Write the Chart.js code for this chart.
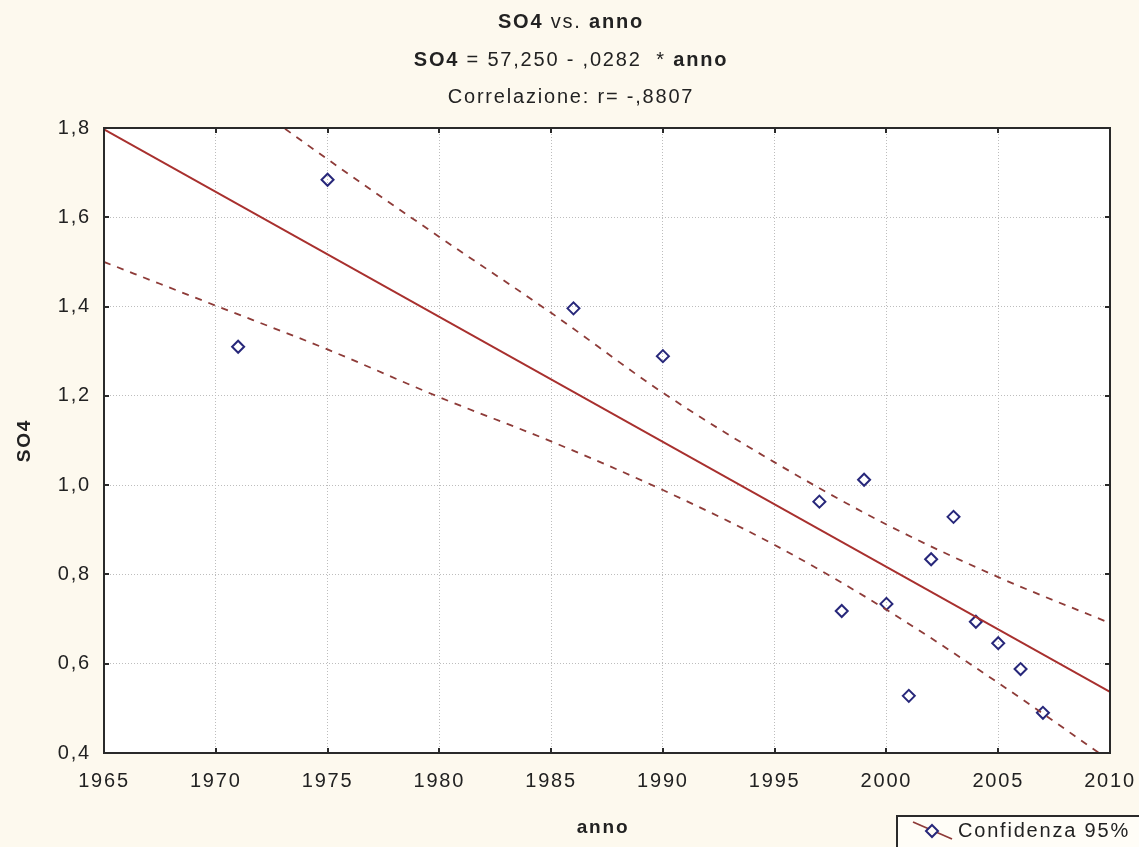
<!DOCTYPE html>
<html>
<head>
<meta charset="utf-8">
<script src="https://cdn.jsdelivr.net/npm/chart.js@4.4.1/dist/chart.umd.min.js"></script>
<style>
  html, body { margin: 0; padding: 0; background: #fdf9ee; }
  #wrap { width: 1139px; height: 847px; position: relative; }
</style>
</head>
<body>
<div id="wrap"><canvas id="c"></canvas></div>
<script>
// ---- data ----
const years = [1971, 1975, 1986, 1990, 1997, 1998, 1999, 2000, 2001, 2002, 2003, 2004, 2005, 2006, 2007];
const so4   = [1.31, 1.684, 1.396, 1.289, 0.963, 0.718, 1.012, 0.734, 0.528, 0.834, 0.929, 0.694, 0.646, 0.588, 0.49];

const fitYears = [1965, 2010];
const fitValues = [1.797, 0.537];

const bandYears = [1965, 1970, 1975, 1980, 1985, 1990, 1995, 2000, 2005, 2010];
const upperBand = [2.094, 1.911, 1.730, 1.556, 1.386, 1.207, 1.051, 0.912, 0.794, 0.691];
const lowerBand = [1.500, 1.402, 1.304, 1.197, 1.098, 0.989, 0.866, 0.721, 0.557, 0.383];

const xTicks = [1965, 1970, 1975, 1980, 1985, 1990, 1995, 2000, 2005, 2010];
const yTicks = [0.4, 0.6, 0.8, 1.0, 1.2, 1.4, 1.6, 1.8];

const titleLine1 = [["SO4", true], [" vs. ", false], ["anno", true]];
const titleLine2 = [["SO4", true], [" = 57,250 - ,0282  * ", false], ["anno", true]];
const titleLine3 = [["Correlazione: r= -,8807", false]];
const xTitle = "anno";
const yTitle = "SO4";
const legendLabel = "Confidenza 95%";

// ---- styles ----
const FONT = "'Liberation Sans', Arial, sans-serif";
const LS = "1.8px";
const TEXT = "#222222";
const FIT_COLOR = "#a8302e";
const BAND_COLOR = "#8e3b38";
const POINT_COLOR = "#27277a";

const toXY = (xs, ys) => xs.map((x, i) => ({ x: x, y: ys[i] }));

function drawRich(ctx, segs, cx, cy, size) {
  ctx.save();
  ctx.letterSpacing = LS;
  ctx.textBaseline = "middle";
  ctx.textAlign = "left";
  ctx.fillStyle = TEXT;
  let total = 0;
  const widths = segs.map(([t, b]) => {
    ctx.font = (b ? "bold " : "") + size + "px " + FONT;
    const w = ctx.measureText(t).width;
    total += w;
    return w;
  });
  let x = cx - total / 2;
  segs.forEach(([t, b], i) => {
    ctx.font = (b ? "bold " : "") + size + "px " + FONT;
    ctx.fillText(t, x, cy);
    x += widths[i];
  });
  ctx.restore();
}

const custom = {
  id: "custom",
  beforeLayout(chart) { chart.ctx.letterSpacing = LS; },
  beforeDraw(chart) {
    const ctx = chart.ctx, a = chart.chartArea;
    ctx.save();
    ctx.fillStyle = "#fdf9ee";
    ctx.fillRect(0, 0, chart.width, chart.height);
    ctx.fillStyle = "#ffffff";
    ctx.fillRect(a.left, a.top, a.right - a.left, a.bottom - a.top);
    ctx.restore();
    ctx.letterSpacing = LS;
  },
  afterDraw(chart) {
    const ctx = chart.ctx, a = chart.chartArea;
    const xs = chart.scales.x, ys = chart.scales.y;
    ctx.save();
    ctx.strokeStyle = "#2a2a2a";
    ctx.lineWidth = 2;
    ctx.strokeRect(a.left, a.top, a.right - a.left, a.bottom - a.top);
    ctx.beginPath();
    xTicks.forEach(v => {
      const px = Math.round(xs.getPixelForValue(v));
      ctx.moveTo(px, a.bottom); ctx.lineTo(px, a.bottom - 5);
      ctx.moveTo(px, a.top); ctx.lineTo(px, a.top + 5);
    });
    yTicks.forEach(v => {
      const py = Math.round(ys.getPixelForValue(v));
      ctx.moveTo(a.left, py); ctx.lineTo(a.left + 5, py);
      ctx.moveTo(a.right, py); ctx.lineTo(a.right - 5, py);
    });
    ctx.stroke();
    ctx.restore();

    const cx = 571;
    drawRich(ctx, titleLine1, cx, 22, 20);
    drawRich(ctx, titleLine2, cx, 60, 20);
    drawRich(ctx, titleLine3, cx, 97, 20);

    drawRich(ctx, [[xTitle, true]], 603, 828, 19);
    ctx.save();
    ctx.translate(25, (a.top + a.bottom) / 2);
    ctx.rotate(-Math.PI / 2);
    drawRich(ctx, [[yTitle, true]], 0, 0, 19);
    ctx.restore();

    ctx.save();
    ctx.fillStyle = "#fffdf7";
    ctx.fillRect(897, 816, 260, 60);
    ctx.strokeStyle = "#2a2a2a";
    ctx.lineWidth = 2;
    ctx.strokeRect(897, 816, 260, 60);
    ctx.strokeStyle = BAND_COLOR;
    ctx.lineWidth = 1.8;
    ctx.beginPath();
    ctx.moveTo(913, 822); ctx.lineTo(952, 839);
    ctx.stroke();
    ctx.strokeStyle = POINT_COLOR;
    ctx.fillStyle = "#fffdf7";
    ctx.lineWidth = 2;
    ctx.beginPath();
    ctx.moveTo(932, 825); ctx.lineTo(938, 831); ctx.lineTo(932, 837); ctx.lineTo(926, 831); ctx.closePath();
    ctx.fill(); ctx.stroke();
    ctx.letterSpacing = LS;
    ctx.font = "20px " + FONT;
    ctx.fillStyle = TEXT;
    ctx.textBaseline = "middle";
    ctx.textAlign = "left";
    ctx.fillText(legendLabel, 958, 831);
    ctx.restore();
  }
};

const gridOpts = {
  color: "#bdbdbd",
  lineWidth: 1,
  borderDash: [1, 2],
  drawTicks: false
};

new Chart(document.getElementById("c"), {
  type: "scatter",
  data: {
    datasets: [
      {
        label: "upper",
        type: "line",
        data: toXY(bandYears, upperBand),
        borderColor: BAND_COLOR,
        borderWidth: 1.8,
        borderDash: [7, 7],
        pointRadius: 0,
        fill: false,
        cubicInterpolationMode: "monotone"
      },
      {
        label: "lower",
        type: "line",
        data: toXY(bandYears, lowerBand),
        borderColor: BAND_COLOR,
        borderWidth: 1.8,
        borderDash: [7, 7],
        pointRadius: 0,
        fill: false,
        cubicInterpolationMode: "monotone"
      },
      {
        label: "fit",
        type: "line",
        data: toXY(fitYears, fitValues),
        borderColor: FIT_COLOR,
        borderWidth: 2,
        pointRadius: 0,
        fill: false
      },
      {
        label: "SO4",
        data: toXY(years, so4),
        pointStyle: "rectRot",
        pointRadius: 6,
        pointHoverRadius: 6,
        pointBorderWidth: 2,
        pointBorderColor: POINT_COLOR,
        pointBackgroundColor: "rgba(255,255,255,0)"
      }
    ]
  },
  options: {
    responsive: true,
    maintainAspectRatio: false,
    animation: false,
    events: [],
    layout: { padding: { left: 0, top: 128, right: 29, bottom: 0 } },
    plugins: { legend: { display: false }, title: { display: false }, tooltip: { enabled: false } },
    scales: {
      x: {
        type: "linear",
        min: 1965, max: 2010,
        afterFit(s) { s.height = 94; s.paddingLeft = 0; s.paddingRight = 0; },
        afterBuildTicks(s) { s.ticks = xTicks.map(v => ({ value: v })); },
        ticks: {
          color: TEXT,
          font: { family: FONT, size: 20 },
          padding: 16,
          maxRotation: 0,
          autoSkip: false,
          callback: v => String(v)
        },
        grid: gridOpts,
        border: { display: false, dash: [1, 2] }
      },
      y: {
        type: "linear",
        min: 0.4, max: 1.8,
        afterFit(s) { s.width = 104; s.paddingTop = 0; s.paddingBottom = 0; },
        afterBuildTicks(s) { s.ticks = yTicks.map(v => ({ value: v })); },
        ticks: {
          color: TEXT,
          font: { family: FONT, size: 20 },
          padding: 13,
          autoSkip: false,
          callback: v => Number(v).toFixed(1).replace(".", ",")
        },
        grid: gridOpts,
        border: { display: false, dash: [1, 2] }
      }
    }
  },
  plugins: [custom]
});
</script>
</body>
</html>
